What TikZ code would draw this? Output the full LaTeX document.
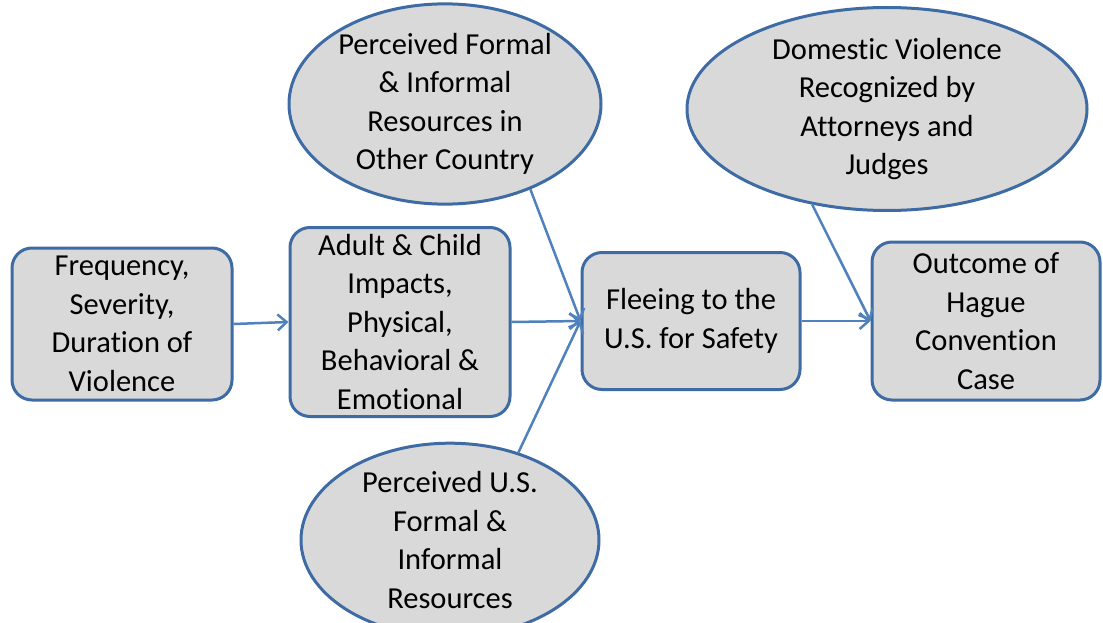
\documentclass[tikz,border=0pt]{standalone}
\usepackage{fontspec}
\setmainfont{Carlito}[Ligatures={NoCommon}]
\usetikzlibrary{shapes.geometric,arrows.meta}
\definecolor{boxfill}{HTML}{D9D9D9}
\definecolor{boxdraw}{HTML}{3E6BA3}
\definecolor{arrowcol}{HTML}{4F81BD}
\begin{document}
\begin{tikzpicture}[x=1pt,y=-1pt,
  txt/.style={font=\fontsize{30.5}{38.5}\selectfont, align=center, text=black},
  rbox/.style={txt, draw=boxdraw, fill=boxfill, line width=3pt, rectangle, rounded corners=20pt, inner sep=0pt},
  oval/.style={txt, draw=boxdraw, fill=boxfill, line width=3pt, ellipse, inner sep=0pt},
  conn/.style={draw=arrowcol, line width=2.5pt, -{Straight Barb[length=9pt,width=16pt,line width=2.5pt]}}]
\useasboundingbox (0,0) rectangle (1103,623);
\node[rbox, minimum width=220pt, minimum height=152pt] (freq) at (122,324) {Frequency,\\Severity,\\Duration of\\Violence};
\node[rbox, minimum width=220pt, minimum height=189pt] (adult) at (400,322) {Adult \& Child\\Impacts,\\Physical,\\Behavioral \&\\Emotional};
\node[rbox, minimum width=218pt, minimum height=137pt] (flee) at (691,321) {Fleeing to the\\U.S. for Safety};
\node[rbox, minimum width=228pt, minimum height=158pt] (outc) at (986,321) {Outcome of\\Hague\\Convention\\Case};
\node[oval, minimum width=312pt, minimum height=184pt] (eother) at (445,104) {Perceived Formal\\\& Informal\\Resources in\\Other Country};
\node[oval, minimum width=400pt, minimum height=203pt] (edv) at (887,109) {Domestic Violence\\Recognized by\\Attorneys and\\Judges};
\node[oval, minimum width=298pt, minimum height=168pt] (eus) at (450,540) {Perceived U.S.\\Formal \&\\Informal\\Resources};
\draw[conn] (freq.east) -- (adult.west);
\draw[conn] (adult.east) -- (flee.west);
\draw[conn] (eother.-45) -- (flee.west);
\draw[conn] (eus.52) -- (flee.west);
\draw[conn] (flee.east) -- (outc.west);
\draw[conn] (edv.-128) -- (outc.west);
\end{tikzpicture}
\end{document}
